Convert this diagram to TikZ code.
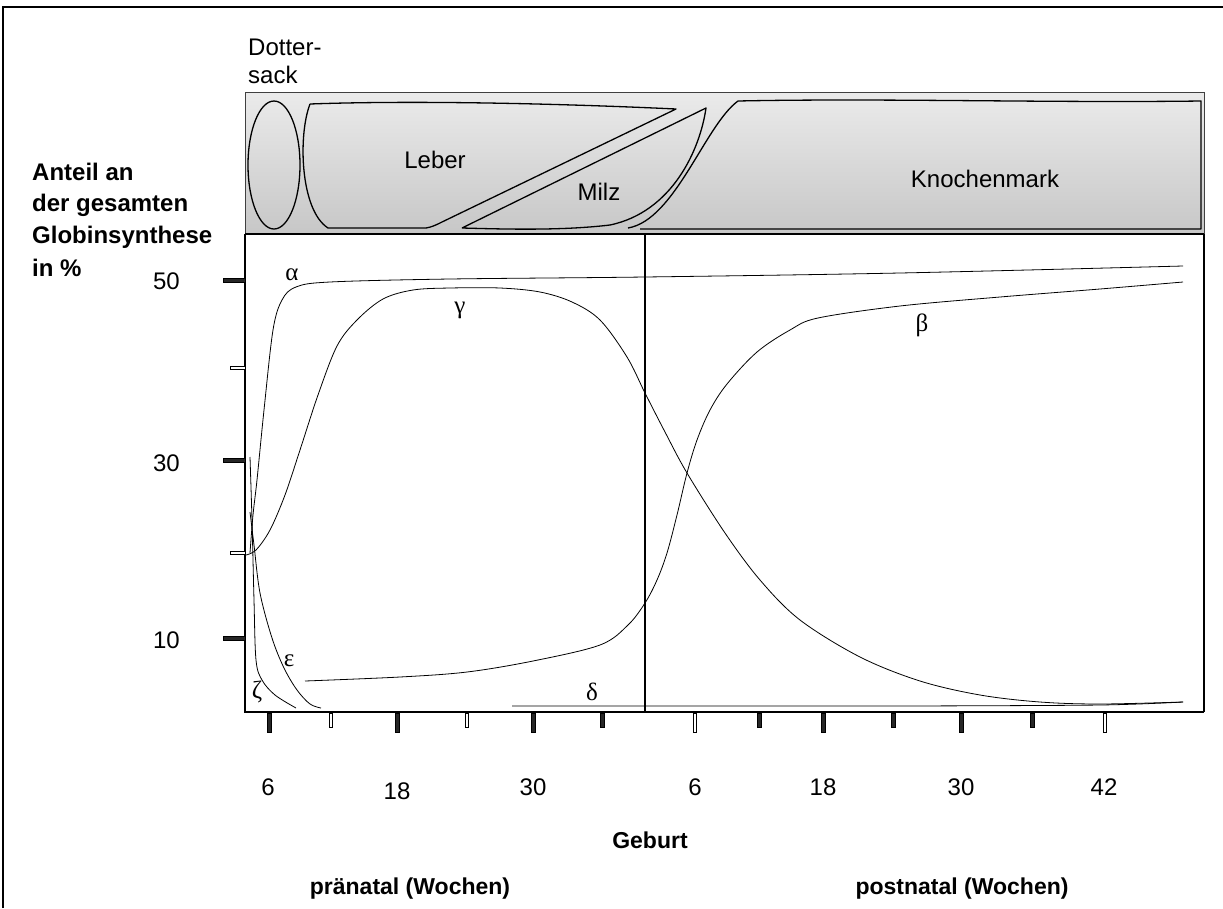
\documentclass[tikz,border=0pt]{standalone}
\usepackage{fontspec}
\setmainfont{Liberation Sans}
\newfontfamily\grk{Liberation Serif}
\begin{document}
\begin{tikzpicture}[x=1pt,y=-1pt,
  lbl/.style={font=\fontsize{24}{28}\selectfont, inner sep=0pt},
  blbl/.style={font=\fontsize{24}{28}\selectfont\bfseries, inner sep=0pt},
  bot/.style={font=\fontsize{23}{27}\selectfont\bfseries, inner sep=0pt},
  glbl/.style={font=\fontsize{25}{29}\selectfont\grk, inner sep=0pt},
  curve/.style={line width=0.8pt, black},
  organ/.style={line width=1.3pt, black, line join=round},
  tickdark/.style={fill=black!85, draw=black, line width=0.5pt},
  tickhollow/.style={fill=white, draw=black, line width=0.8pt},
  axis/.style={line width=2.4pt, black}
]
\useasboundingbox (0,0) rectangle (1223,908);
% outer frame
\draw[line width=2pt] (3,908) -- (3,7) -- (1223,7);
% organ band
\shade[top color=black!8, bottom color=black!22] (245,92) rectangle (1204,234);
\draw[line width=1pt, black!75] (245,92) rectangle (1204,234);
% Dottersack
\draw[organ] (274,165) ellipse [x radius=26, y radius=64];
% Leber
\draw[organ] (310,104) .. controls (420,100) and (570,104) .. (676,109)
  -- (442,222) .. controls (436,225) and (432,227) .. (426,228) -- (328,228)
  .. controls (300,210) and (298,135) .. (310,104);
% Milz
\draw[organ] (462,228) -- (706,108) .. controls (700,150) and (672,212) .. (610,225)
  .. controls (560,231) and (500,229) .. (462,228);
% Knochenmark
\draw[organ] (628,228) .. controls (675,220) and (705,125) .. (738,101)
  .. controls (880,98) and (1050,103) .. (1201,101) -- (1201,229) -- (640,229);
% plot frame
\draw[line width=1.3pt] (1204,234) -- (1204,712);
\draw[line width=2pt] (245,234) -- (1204,234);
\draw[axis] (245,234) -- (245,712) -- (1204,712);
\draw[axis] (645,234) -- (645,712);
% y ticks
\foreach \yy in {280,460,638} \draw[tickdark] (223,\yy-2) rectangle (245,\yy+2);
\foreach \yy in {368,553} \draw[tickhollow] (230,\yy-1.5) rectangle (245,\yy+1.5);
% x ticks
\foreach \xx in {269,397,533,823,961} \draw[tickdark] (\xx-1.8,713) rectangle (\xx+1.8,732);
\foreach \xx in {602,759,893,1032} \draw[tickdark] (\xx-1.8,713) rectangle (\xx+1.8,727);
\foreach \xx in {331,467} \draw[tickhollow] (\xx-1.5,713) rectangle (\xx+1.5,727);
\foreach \xx in {695,1105} \draw[tickhollow] (\xx-1.5,713) rectangle (\xx+1.5,732);
% curves
% alpha
\draw[curve] plot[smooth, tension=0.55] coordinates {(250,553) (253,515) (257,480) (264,410) (273,330) (282,300) (296,287) (330,282) (450,279) (645,277) (900,273) (1183,266)};
% gamma
\draw[curve] plot[smooth, tension=0.55] coordinates {(246,555) (256,550) (270,530) (285,495) (300,450) (318,395) (337,346) (357,320) (383,299) (413,290) (450,288) (500,288) (540,292) (572,302) (600,320) (627,357) (645,393) (665,432) (687,473) (725,533) (760,580) (800,620) (860,657) (920,681) (980,695) (1040,702) (1100,704) (1183,702)};
% beta
\draw[curve] plot[smooth, tension=0.55] coordinates {(305,681) (400,677) (467,672) (533,661) (600,645) (628,625) (645,603) (657,580) (667,553) (677,515) (687,473) (697,440) (710,410) (727,384) (757,352) (790,330) (818,318) (900,306) (1000,297) (1100,289) (1183,282)};
% delta
\draw[curve] plot[smooth, tension=0.5] coordinates {(512,706) (700,706) (900,706) (1100,705) (1183,702)};
% zeta
\draw[curve] plot[smooth, tension=0.55] coordinates {(250,457) (252,520) (254,600) (256,660) (262,680) (275,695) (296,708)};
% epsilon
\draw[curve] plot[smooth, tension=0.55] coordinates {(250,512) (254,545) (260,593) (272,638) (284,668) (297,690) (310,704) (321,708)};
% greek labels
\node[glbl] (la) at (292,275) {α};
\node[glbl] (lg) at (460,310) {γ};
\node[glbl] (lb) at (922,325) {β};
\node[glbl] (le) at (289,661) {ε};
\node[glbl] (lz) at (257,692) {ζ};
\node[glbl] (ld) at (592,692) {δ};
% organ labels
\node[lbl, anchor=base west] (dot1) at (248,55) {Dotter-};
\node[lbl, anchor=base west] (dot2) at (248,83) {sack};
\node[lbl] (leber) at (435,160) {Leber};
\node[lbl] (milz) at (599,192) {Milz};
\node[lbl] (km) at (985,179) {Knochenmark};
% y axis labels
\node[blbl, anchor=west] (ya) at (32,172) {Anteil an};
\node[blbl, anchor=west] (yb) at (32,205) {der gesamten};
\node[blbl, anchor=west] (yc) at (32,237) {Globinsynthese};
\node[blbl, anchor=west] (yd) at (32,268) {in \%};
\node[lbl, anchor=east] (y50) at (180,281) {50};
\node[lbl, anchor=east] (y30) at (180,463) {30};
\node[lbl, anchor=east] (y10) at (180,640) {10};
% x labels
\node[lbl] (x1) at (268,787) {6};
\node[lbl] (x2) at (397,791) {18};
\node[lbl] (x3) at (533,787) {30};
\node[lbl] (x4) at (695,787) {6};
\node[lbl] (x5) at (823,787) {18};
\node[lbl] (x6) at (961,787) {30};
\node[lbl] (x7) at (1104,787) {42};
\node[bot] (geb) at (650,840) {Geburt};
\node[bot] (pre) at (410,889) {pränatal (Wochen)};
\node[bot] (post) at (962,889) {postnatal (Wochen)};
\end{tikzpicture}
\end{document}
